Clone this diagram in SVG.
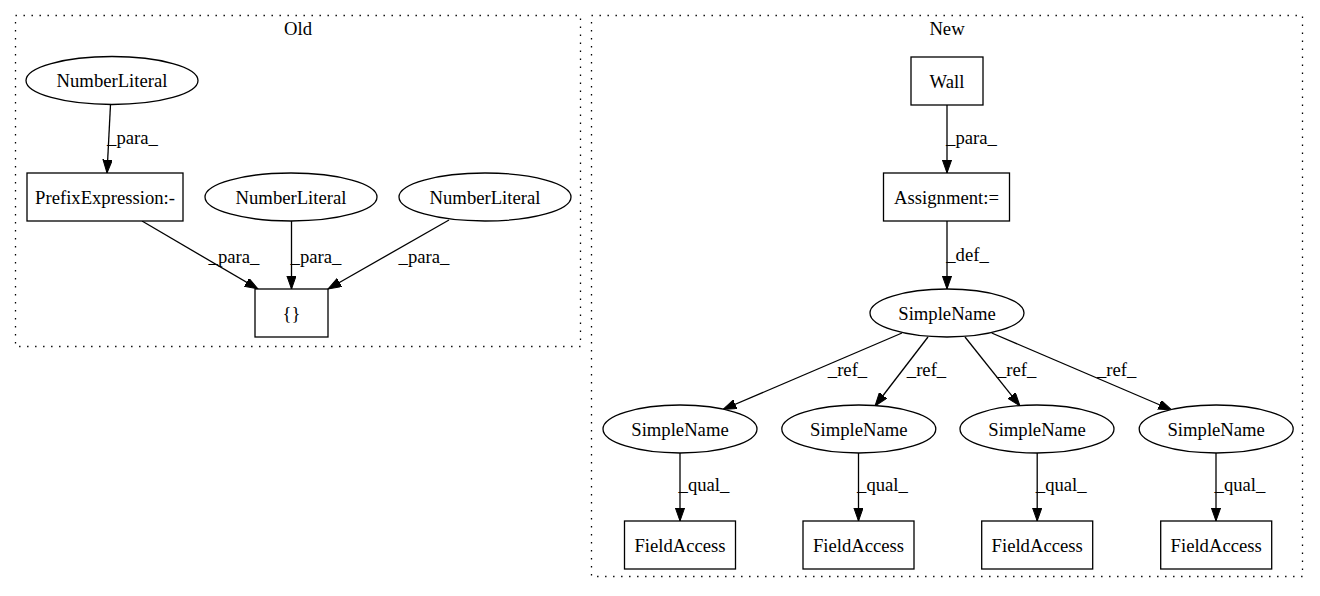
<svg xmlns="http://www.w3.org/2000/svg" width="1320" height="596" viewBox="0 0 1320 596">
<defs>
<marker id="arr" markerUnits="userSpaceOnUse" markerWidth="14" markerHeight="10" refX="13.3" refY="4.7" orient="auto">
<path d="M0,0 L13.3,4.7 L0,9.4 Z" fill="#000" stroke="#000" stroke-width="1"/>
</marker>
<style>
text{font-family:"Liberation Serif","Times New Roman",serif;font-size:18.67px;fill:#000;text-anchor:middle}
.cl{fill:none;stroke:#000;stroke-width:1.3;stroke-dasharray:1.4,6.6}
.n{fill:#fff;stroke:#000;stroke-width:1.3}
.e{stroke:#000;stroke-width:1.3;fill:none;marker-end:url(#arr)}
</style>
</defs>
<rect width="1320" height="596" fill="#fff"/>
<g id="cluster_old">
<rect class="cl" x="15.5" y="15.5" width="565" height="331"/>
<text x="298" y="35">Old</text>
</g>
<g id="cluster_new">
<rect class="cl" x="591.5" y="15.5" width="711" height="561"/>
<text x="947" y="35">New</text>
</g>
<g id="connectors">
<line class="e" x1="110.5" y1="104.5" x2="107" y2="173"/>
<text x="132.5" y="144">_para_</text>
<line class="e" x1="142" y1="221" x2="258" y2="289"/>
<text x="234" y="263">_para_</text>
<line class="e" x1="291.5" y1="221" x2="291.5" y2="289"/>
<text x="316" y="263">_para_</text>
<line class="e" x1="449" y1="220" x2="328" y2="289"/>
<text x="424" y="263">_para_</text>
<line class="e" x1="947" y1="105" x2="947" y2="173"/>
<text x="971.5" y="144">_para_</text>
<line class="e" x1="947" y1="221" x2="947" y2="289"/>
<text x="967.5" y="261">_def_</text>
<line class="e" x1="902" y1="333" x2="723" y2="409.5"/>
<text x="847.5" y="376">_ref_</text>
<line class="e" x1="928" y1="337" x2="875" y2="406"/>
<text x="926.5" y="376">_ref_</text>
<line class="e" x1="965" y1="337" x2="1020" y2="406"/>
<text x="1016.7" y="376">_ref_</text>
<line class="e" x1="991.7" y1="333" x2="1171.7" y2="410"/>
<text x="1116.7" y="376">_ref_</text>
<line class="e" x1="680" y1="453" x2="680" y2="521"/>
<text x="704" y="491">_qual_</text>
<line class="e" x1="858.5" y1="453" x2="858.5" y2="521"/>
<text x="882.5" y="491">_qual_</text>
<line class="e" x1="1037.2" y1="453" x2="1037.2" y2="521"/>
<text x="1061.2" y="491">_qual_</text>
<line class="e" x1="1216" y1="453" x2="1216" y2="521"/>
<text x="1240" y="491">_qual_</text>
</g>
<g id="nl1"><ellipse class="n" cx="112" cy="80.5" rx="86" ry="24"/><text x="112" y="87">NumberLiteral</text></g>
<g id="prefix"><rect class="n" x="27" y="173" width="156" height="48"/><text x="105" y="203.5">PrefixExpression:-</text></g>
<g id="nl2"><ellipse class="n" cx="291" cy="197" rx="86" ry="24"/><text x="291" y="203.5">NumberLiteral</text></g>
<g id="nl3"><ellipse class="n" cx="485" cy="197" rx="86" ry="24"/><text x="485" y="203.5">NumberLiteral</text></g>
<g id="braces"><rect class="n" x="255" y="289" width="73" height="48"/><text x="291.5" y="319.5">{}</text></g>
<g id="wall"><rect class="n" x="911" y="57" width="72" height="48"/><text x="947" y="87.5">Wall</text></g>
<g id="assign"><rect class="n" x="883.5" y="173" width="126" height="48"/><text x="946.5" y="203.5">Assignment:=</text></g>
<g id="sn0"><ellipse class="n" cx="947" cy="313" rx="77" ry="24"/><text x="947" y="319.5">SimpleName</text></g>
<g id="sn1"><ellipse class="n" cx="680" cy="429" rx="77" ry="24"/><text x="680" y="435.5">SimpleName</text></g>
<g id="sn2"><ellipse class="n" cx="858.8" cy="429" rx="77" ry="24"/><text x="858.8" y="435.5">SimpleName</text></g>
<g id="sn3"><ellipse class="n" cx="1037" cy="429" rx="77" ry="24"/><text x="1037" y="435.5">SimpleName</text></g>
<g id="sn4"><ellipse class="n" cx="1216.2" cy="429" rx="77" ry="24"/><text x="1216.2" y="435.5">SimpleName</text></g>
<g id="fa1"><rect class="n" x="624.5" y="521" width="111" height="48"/><text x="680" y="551.5">FieldAccess</text></g>
<g id="fa2"><rect class="n" x="803" y="521" width="111" height="48"/><text x="858.5" y="551.5">FieldAccess</text></g>
<g id="fa3"><rect class="n" x="981.7" y="521" width="111" height="48"/><text x="1037.2" y="551.5">FieldAccess</text></g>
<g id="fa4"><rect class="n" x="1160.7" y="521" width="111" height="48"/><text x="1216.2" y="551.5">FieldAccess</text></g>
</svg>
